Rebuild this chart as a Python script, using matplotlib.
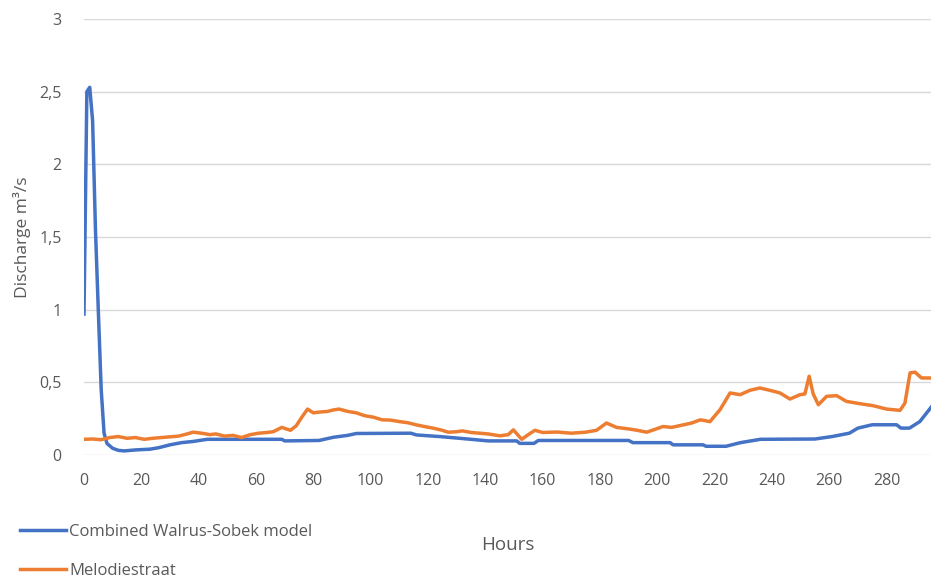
import numpy as np
import matplotlib
matplotlib.use('Agg')
import matplotlib.pyplot as plt

plt.rcParams['font.family'] = ['Open Sans', 'DejaVu Sans']

# Combined Walrus-Sobek model (hours, discharge m3/s)
model_h = [0, 1, 2, 3, 4, 5, 6, 7, 8, 10, 12, 14, 18, 23, 26, 30, 34, 38, 43, 69, 70,
           82, 87, 92, 95, 114, 116, 124, 131, 135, 141, 151, 152, 157, 158.5, 190,
           191.5, 204.5, 205.5, 216, 217, 224, 229, 236, 255, 261, 267, 270, 275,
           283.5, 285, 288, 291.6, 294, 296]
model_q = [0.97, 2.50, 2.53, 2.30, 1.55, 0.99, 0.45, 0.15, 0.08, 0.046, 0.032, 0.028,
           0.035, 0.04, 0.05, 0.07, 0.085, 0.093, 0.108, 0.108, 0.097, 0.10, 0.122,
           0.135, 0.148, 0.15, 0.138, 0.127, 0.115, 0.108, 0.097, 0.097, 0.08, 0.08,
           0.10, 0.10, 0.085, 0.085, 0.07, 0.07, 0.06, 0.06, 0.085, 0.108, 0.11,
           0.127, 0.15, 0.185, 0.208, 0.208, 0.185, 0.185, 0.23, 0.29, 0.34]

# Melodiestraat measurements
melo_h = [0, 3, 6, 9, 12, 15, 18, 21, 24, 27, 30, 33, 36, 38, 41, 44, 46, 49, 52, 55,
          58, 61, 64, 66, 69, 72, 74, 76, 78, 80, 82, 85, 87, 89, 92, 95, 98, 101, 104,
          107, 110, 113, 116, 119, 122, 125, 127, 130, 132, 135, 138, 141, 145, 148,
          149.8, 152.7, 155, 157.3, 160, 165, 170, 175, 178.8, 182.3, 185.8, 190.5,
          193, 196.3, 199, 202, 205, 209, 212, 215, 218.4, 221.9, 225.4, 228.9, 232.3,
          235.8, 239.3, 242.8, 246.3, 249.8, 251.5, 253, 254.4, 256.2, 259.1, 262.6,
          266, 270.7, 275.4, 280, 284.7, 286.4, 288.2, 289.9, 292.2, 296]
melo_q = [0.108, 0.11, 0.105, 0.12, 0.127, 0.115, 0.12, 0.108, 0.115, 0.12, 0.125,
          0.13, 0.145, 0.157, 0.15, 0.14, 0.145, 0.13, 0.135, 0.12, 0.14, 0.15, 0.155,
          0.16, 0.19, 0.17, 0.2, 0.26, 0.316, 0.29, 0.295, 0.30, 0.31, 0.316, 0.30,
          0.29, 0.27, 0.26, 0.242, 0.24, 0.23, 0.222, 0.207, 0.195, 0.184, 0.17, 0.157,
          0.16, 0.166, 0.155, 0.15, 0.145, 0.132, 0.14, 0.173, 0.108, 0.14, 0.17, 0.155,
          0.158, 0.15, 0.157, 0.17, 0.22, 0.19, 0.178, 0.17, 0.157, 0.175, 0.196, 0.19,
          0.207, 0.22, 0.242, 0.23, 0.312, 0.427, 0.415, 0.445, 0.461, 0.445, 0.427,
          0.385, 0.415, 0.42, 0.542, 0.42, 0.346, 0.404, 0.408, 0.369, 0.353, 0.339,
          0.316, 0.307, 0.357, 0.565, 0.57, 0.53, 0.53]

xticks = np.arange(0, 281, 20)
yticks = [0, 0.5, 1, 1.5, 2, 2.5, 3]
ylabels = ['0', '0,5', '1', '1,5', '2', '2,5', '3']

fig = plt.figure(figsize=(9.31, 5.78), dpi=100)
ax = fig.add_axes([84/931, 1 - 455/578, 1 - 84/931, (455 - 19)/578])

ax.plot(model_h, model_q, '-', color='#4472C4', lw=2.5, label='Combined Walrus-Sobek model',
        solid_joinstyle='round')
ax.plot(melo_h, melo_q, '-', color='#ED7D31', lw=2.5, label='Melodiestraat',
        solid_joinstyle='round')

ax.set_xlim([0, 295.5])
ax.set_ylim([0, 3])
ax.set_xticks(xticks)
ax.set_yticks(yticks)
ax.set_yticklabels(ylabels)
ax.grid(axis='y', color='#d9d9d9', lw=1)
ax.set_axisbelow(True)
for s in ax.spines.values():
    s.set_visible(False)
ax.tick_params(length=0, labelsize=11.5, labelcolor='#595959')
ax.tick_params(axis='x', pad=13)
ax.tick_params(axis='y', pad=16)

ax.set_xlabel('Hours', fontsize=13.5, color='#595959')
ax.xaxis.set_label_coords(0.5, -(536 - 455)/436)
ax.set_ylabel('Discharge m³/s', fontsize=12.5, color='#595959')
ax.yaxis.set_label_coords(-(84 - 31)/847, 0.5)

fig.legend(loc='upper left', bbox_to_anchor=(5/931, 1 - 509/578), frameon=False,
           fontsize=12, handlelength=2.75, handletextpad=0.2, labelspacing=1.36,
           labelcolor='#595959')

plt.savefig('out.png')
